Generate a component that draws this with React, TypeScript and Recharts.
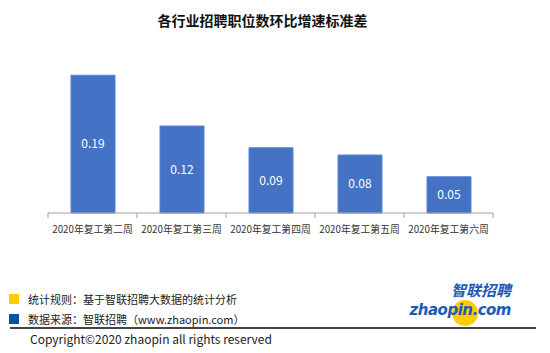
import { BarChart, Bar, XAxis, YAxis, LabelList } from 'recharts'

const weeks = ['2020年复工第二周', '2020年复工第三周', '2020年复工第四周', '2020年复工第五周', '2020年复工第六周']
const stdDev = [0.19, 0.12, 0.09, 0.08, 0.05]
const yDomain: [number, number] = [0, 0.2]

const data = weeks.map((w, i) => ({ week: w, value: stdDev[i] }))

const FONT = '"Noto Sans CJK SC", "Noto Sans", sans-serif'

function WeekTick(props: any) {
  const { x, y, payload, index } = props
  const half = 44.5
  return (
    <g>
      {index === 0 && <line x1={x - half} x2={x - half} y1={y - 8} y2={y - 3} stroke="#a0a0a0" />}
      <line x1={x + half} x2={x + half} y1={y - 8} y2={y - 3} stroke="#a0a0a0" />
      <text x={x} y={y + 12} textAnchor="middle" fill="#333" fontSize={9.8} fontFamily={FONT}>
        {payload.value}
      </text>
    </g>
  )
}

export default function App() {
  return (
    <div style={{ position: 'absolute', left: 0, top: 0, width: 550, height: 353, background: '#fff', fontFamily: FONT }}>
      <div style={{ position: 'absolute', left: 0, width: 525, top: 10, textAlign: 'center', fontSize: 14, fontWeight: 700, color: '#111' }}>
        各行业招聘职位数环比增速标准差
      </div>
      <div style={{ position: 'absolute', left: 0, top: 0 }}>
        <BarChart width={550} height={245} data={data} margin={{ top: 68, right: 57, left: 48, bottom: 0 }}>
          <XAxis
            dataKey="week"
            height={32}
            axisLine={{ stroke: '#a0a0a0' }}
            tickLine={false}
            tick={<WeekTick />}
            interval={0}
          />
          <YAxis hide domain={yDomain} />
          <Bar dataKey="value" fill="#4472c4" stroke="#5b85d0" barSize={44} isAnimationActive={false}>
            <LabelList dataKey="value" position="center" fill="#fff" fontSize={12} fontFamily={FONT} />
          </Bar>
        </BarChart>
      </div>
      <div style={{ position: 'absolute', left: 9, top: 294, width: 10, height: 10, background: '#ffcc00' }} />
      <div style={{ position: 'absolute', left: 28, top: 291, fontSize: 11, color: '#222', lineHeight: '16px' }}>
        统计规则：基于智联招聘大数据的统计分析
      </div>
      <div style={{ position: 'absolute', left: 9, top: 314, width: 10, height: 10, background: '#0d4ea6' }} />
      <div style={{ position: 'absolute', left: 28, top: 311, fontSize: 11, color: '#222', lineHeight: '16px' }}>
        数据来源：智联招聘（www.zhaopin.com）
      </div>
      <div style={{ position: 'absolute', left: 10, top: 327, width: 526, height: 2, background: '#444' }} />
      <div style={{ position: 'absolute', left: 30, top: 331, fontSize: 12, color: '#222', lineHeight: '16px' }}>
        Copyright©2020 zhaopin all rights reserved
      </div>
      <svg style={{ position: 'absolute', left: 400, top: 280 }} width={120} height={48}>
        <circle cx={65} cy={33} r={13} fill="#ffcc00" />
        <text x={111} y={16} textAnchor="end" fontSize={15} fontWeight={700} fontStyle="italic" fill="#1a5bb8" fontFamily={FONT}>
          智联招聘
        </text>
        <text x={111} y={35} textAnchor="end" fontSize={15} fontWeight={700} fontStyle="italic" fill="#1a5bb8" fontFamily='"DejaVu Sans", sans-serif' letterSpacing={-0.5}>
          zhaopin.com
        </text>
      </svg>
    </div>
  )
}
